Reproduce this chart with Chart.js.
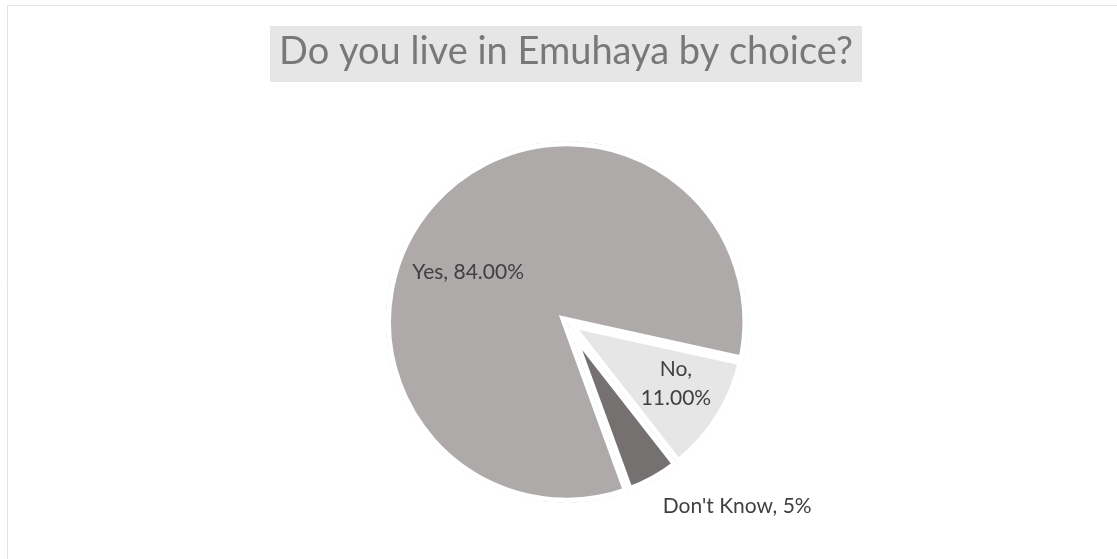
<!DOCTYPE html>
<html>
<head>
<meta charset="utf-8">
<title>Do you live in Emuhaya by choice?</title>
<script src="https://cdn.jsdelivr.net/npm/chart.js@4.4.1/dist/chart.umd.min.js"></script>
<style>
  html, body { margin: 0; padding: 0; background: #ffffff; }
  #wrap { width: 1117px; height: 559px; }
</style>
</head>
<body>
<div id="wrap"><canvas id="chart" width="1117" height="559"></canvas></div>
<script>
// Survey answers and their shares (percent)
const categories = ['Yes', 'No', "Don't Know"];
const shares = [84, 11, 5];
// Decimals shown in each slice label
const labelDecimals = [2, 2, 0];
const chartTitle = 'Do you live in Emuhaya by choice?';

const sliceColors = ['#AEAAAA', '#E7E6E6', '#767171'];

// Where each label sits: fraction along the slice's sweep and fraction of the radius
const labelPlacement = [
  { along: 0.453, out: 0.611, split: false },
  { along: 0.434, out: 0.694, split: true },
  { along: -0.27, out: 1.385, split: false }
];

function labelLines(i) {
  const value = shares[i].toFixed(labelDecimals[i]) + '%';
  return labelPlacement[i].split
    ? [categories[i] + ',', value]
    : [categories[i] + ', ' + value];
}

// Chart frame and the boxed title
const frameAndTitle = {
  id: 'frameAndTitle',
  beforeDraw(chart) {
    const ctx = chart.ctx;
    ctx.save();
    ctx.fillStyle = '#ffffff';
    ctx.fillRect(0, 0, chart.width, chart.height);
    ctx.strokeStyle = '#E4E4E4';
    ctx.lineWidth = 1;
    ctx.beginPath();
    ctx.moveTo(7.5, chart.height + 2);
    ctx.lineTo(7.5, 5.5);
    ctx.lineTo(chart.width + 2, 5.5);
    ctx.stroke();

    ctx.fillStyle = '#E7E6E6';
    ctx.fillRect(270, 26, 592, 56);
    ctx.fillStyle = '#787878';
    ctx.font = '400 38px Lato, "Open Sans", sans-serif';
    ctx.textAlign = 'center';
    ctx.textBaseline = 'alphabetic';
    ctx.fillText(chartTitle, 566, 64);
    ctx.restore();
  }
};

// Category/value labels placed from each arc's own geometry
const sliceLabels = {
  id: 'sliceLabels',
  afterDatasetsDraw(chart) {
    const ctx = chart.ctx;
    const meta = chart.getDatasetMeta(0);
    ctx.save();
    ctx.fillStyle = '#404040';
    ctx.font = '21px Lato, "Open Sans", sans-serif';
    ctx.textAlign = 'center';
    ctx.textBaseline = 'middle';
    meta.data.forEach((arc, i) => {
      const { x, y, startAngle, endAngle, outerRadius } =
        arc.getProps(['x', 'y', 'startAngle', 'endAngle', 'outerRadius'], true);
      const p = labelPlacement[i];
      const a = startAngle + p.along * (endAngle - startAngle);
      const r = outerRadius * p.out;
      const lx = x + Math.cos(a) * r;
      const ly = y + Math.sin(a) * r;
      const lines = labelLines(i);
      const lh = 29;
      lines.forEach((t, k) => {
        ctx.fillText(t, lx, ly + (k - (lines.length - 1) / 2) * lh);
      });
    });
    ctx.restore();
  }
};

new Chart(document.getElementById('chart'), {
  type: 'pie',
  data: {
    labels: categories,
    datasets: [{
      data: shares,
      backgroundColor: sliceColors,
      borderColor: '#ffffff',
      borderWidth: 5,
      borderAlign: 'inner',
      borderJoinStyle: 'miter'
    }]
  },
  options: {
    responsive: false,
    animation: false,
    rotation: 160,
    radius: 181,
    layout: { padding: { top: 100, bottom: 15, left: 20, right: 3.6 } },
    plugins: {
      legend: { display: false },
      title: { display: false },
      tooltip: { enabled: false }
    }
  },
  plugins: [frameAndTitle, sliceLabels]
});
</script>
</body>
</html>
